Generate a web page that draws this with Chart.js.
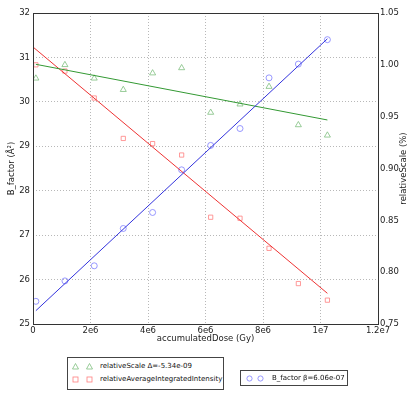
<!DOCTYPE html>
<html>
<head>
<meta charset="utf-8">
<script src="https://cdn.jsdelivr.net/npm/chart.js@4/dist/chart.umd.min.js"></script>
<style>
  body { margin: 0; background: #fff; font-family: "DejaVu Sans", sans-serif; }
  #wrap { position: relative; width: 413px; height: 396px; }
  .leg { position: absolute; background: #fff; border: 1px solid #444; font-size: 7px; color: #111; }
  .row { position: absolute; left: 0; height: 10px; line-height: 10px; white-space: nowrap; }
  .row svg { position: absolute; top: 2px; }
  .row span { position: absolute; }
</style>
</head>
<body>
<div id="wrap">
  <canvas id="chart" width="413" height="396"></canvas>
  <div class="leg" style="left:67px; top:357px; width:155px; height:31px;">
    <div class="row" style="top:3px;">
      <svg style="left:4px" width="7" height="7"><polygon points="3.5,0.5 6.5,6 0.5,6" fill="none" stroke="#7fbf7f" stroke-width="0.8"/></svg>
      <svg style="left:18px" width="7" height="7"><polygon points="3.5,0.5 6.5,6 0.5,6" fill="none" stroke="#7fbf7f" stroke-width="0.8"/></svg>
      <span style="left:32px">relativeScale Δ=-5.34e-09</span>
    </div>
    <div class="row" style="top:16px;">
      <svg style="left:4px" width="7" height="7"><rect x="1" y="1" width="5" height="5" fill="none" stroke="#ff7f7f" stroke-width="0.8"/></svg>
      <svg style="left:18px" width="7" height="7"><rect x="1" y="1" width="5" height="5" fill="none" stroke="#ff7f7f" stroke-width="0.8"/></svg>
      <span style="left:32px">relativeAverageIntegratedIntensity</span>
    </div>
  </div>
  <div class="leg" style="left:240px; top:370px; width:106px; height:14px;">
    <div class="row" style="top:2px;">
      <svg style="left:5px" width="7" height="7"><circle cx="3.5" cy="3.5" r="2.6" fill="none" stroke="#7f7fff" stroke-width="0.8"/></svg>
      <svg style="left:16px" width="7" height="7"><circle cx="3.5" cy="3.5" r="2.6" fill="none" stroke="#7f7fff" stroke-width="0.8"/></svg>
      <span style="left:31px">B_factor β=6.06e-07</span>
    </div>
  </div>
</div>
<script>
const dose = [0.1e6, 1.11e6, 2.13e6, 3.14e6, 4.16e6, 5.17e6, 6.18e6, 7.2e6, 8.21e6, 9.23e6, 10.24e6]
const bFactor = [25.51, 25.97, 26.31, 27.15, 27.51, 28.47, 29.02, 29.40, 30.54, 30.85, 31.40]
const relativeScale = [0.987, 1.000, 0.987, 0.976, 0.992, 0.997, 0.954, 0.962, 0.979, 0.942, 0.932]
const relIntensity = [1.000, 0.994, 0.968, 0.929, 0.924, 0.913, 0.853, 0.852, 0.823, 0.789, 0.773]

// fitted lines (endpoints)
const bFitX = [0.1e6, 10.24e6]
const bFitY = [25.30, 31.42]
const scaleFitX = [0.1e6, 10.24e6]
const scaleFitY = [1.0005, 0.9468]
const intFitX = [0, 10.24e6]
const intFitY = [1.0172, 0.7796]

const xTicks = [0, 2e6, 4e6, 6e6, 8e6, 1e7, 1.2e7]
const xTickLabels = ['0', '2e6', '4e6', '6e6', '8e6', '1e7', '1.2e7']
const rightTicks = [0.75, 0.8, 0.85, 0.9, 0.95, 1.0, 1.05]
const rightTitle = 'relativeScale (%)'

const pts = (xs, ys) => xs.map((x, i) => ({x: x, y: ys[i]}))

const font = {family: 'DejaVu Sans', size: 8.5}
const gridDots = {color: '#b8b8b8', lineWidth: 1, drawTicks: false}
const dots = {display: false, dash: [1, 2]}

// box around the plot + right axis title reading bottom-to-top (like matplotlib)
const frame = {
  id: 'frame',
  afterDraw(c) {
    const a = c.chartArea, ctx = c.ctx
    ctx.save()
    ctx.strokeStyle = '#333'
    ctx.lineWidth = 1
    ctx.strokeRect(Math.round(a.left) + 0.5, Math.round(a.top) + 0.5, Math.round(a.right - a.left), Math.round(a.bottom - a.top))
    ctx.translate(404, (a.top + a.bottom) / 2)
    ctx.rotate(-Math.PI / 2)
    ctx.font = '8.5px "DejaVu Sans"'
    ctx.fillStyle = '#222'
    ctx.textAlign = 'center'
    ctx.textBaseline = 'middle'
    ctx.fillText(rightTitle, 0, 0)
    ctx.restore()
  }
}

new Chart(document.querySelector('#chart').getContext('2d'), {
  type: 'scatter',
  data: {
    datasets: [
      {label: 'bfit', data: pts(bFitX, bFitY), showLine: true, borderColor: '#3333dd', borderWidth: 1, pointRadius: 0, yAxisID: 'y'},
      {label: 'sfit', data: pts(scaleFitX, scaleFitY), showLine: true, borderColor: '#339933', borderWidth: 1, pointRadius: 0, yAxisID: 'y1'},
      {label: 'ifit', data: pts(intFitX, intFitY), showLine: true, borderColor: '#ee3333', borderWidth: 1, pointRadius: 0, yAxisID: 'y1'},
      {label: 'B_factor', data: pts(dose, bFactor), pointStyle: 'circle', pointRadius: 3, borderColor: '#7f7fff', backgroundColor: 'rgba(0,0,0,0)', borderWidth: 0.8, yAxisID: 'y'},
      {label: 'relativeScale', data: pts(dose, relativeScale), pointStyle: 'triangle', pointRadius: 3.5, borderColor: '#7fbf7f', backgroundColor: 'rgba(0,0,0,0)', borderWidth: 0.8, yAxisID: 'y1'},
      {label: 'relativeAverageIntegratedIntensity', data: pts(dose, relIntensity), pointStyle: 'rect', pointRadius: 3, borderColor: '#ff7f7f', backgroundColor: 'rgba(0,0,0,0)', borderWidth: 0.8, yAxisID: 'y1'}
    ]
  },
  options: {
    responsive: false,
    animation: false,
    layout: {padding: {top: 13, bottom: 52, left: 0, right: 0}},
    plugins: {legend: {display: false}, tooltip: {enabled: false}},
    scales: {
      x: {
        type: 'linear', min: 0, max: 1.2e7,
        afterBuildTicks: s => { s.ticks = xTicks.map(v => ({value: v})) },
        afterFit: s => { s.height = 20 },
        ticks: {font: font, color: '#222', padding: 2, maxRotation: 0,
          callback: v => xTickLabels[xTicks.indexOf(v)]},
        grid: gridDots,
        border: dots,
        title: {display: true, text: 'accumulatedDose (Gy)', font: font, color: '#222', padding: 0}
      },
      y: {
        position: 'left', min: 25, max: 32,
        afterFit: s => { s.width = 33 },
        ticks: {font: font, color: '#222', stepSize: 1, padding: 3},
        grid: gridDots,
        border: dots,
        title: {display: true, text: 'B_factor (Å²)', font: font, color: '#222', padding: {top: 7, bottom: 0}}
      },
      y1: {
        position: 'right', min: 0.75, max: 1.05,
        afterFit: s => { s.width = 35 },
        afterBuildTicks: s => { s.ticks = rightTicks.map(v => ({value: v})) },
        ticks: {font: font, color: '#222', padding: 2, callback: v => v.toFixed(2)},
        grid: {display: false, drawTicks: false},
        border: {display: false}
      }
    }
  },
  plugins: [frame]
})
</script>
</body>
</html>
